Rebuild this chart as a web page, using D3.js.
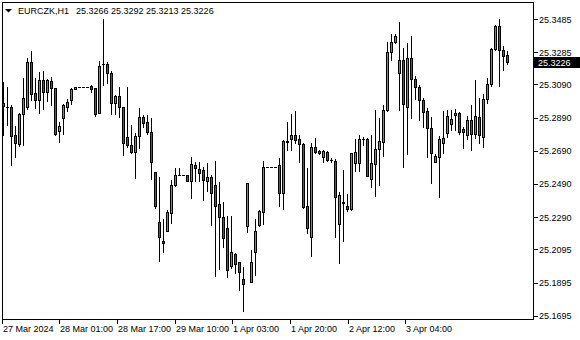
<!DOCTYPE html>
<html>
<head>
<meta charset="utf-8">
<script src="https://cdn.jsdelivr.net/npm/d3@7"></script>
<style>
  html, body { margin: 0; padding: 0; background: #fff; }
  svg text { font-family: "Liberation Sans", Arial, sans-serif; font-size: 9px; fill: #000; }
</style>
</head>
<body>
<script>
const symbol = "EURCZK,H1";

// hourly bars, oldest first
const open = [
  25.2977, 25.2957, 25.2956, 25.2786, 25.2731, 25.2912, 25.2954, 25.3224, 25.3037, 25.2997,
  25.3117, 25.3043, 25.3111, 25.3067, 25.2811, 25.2886, 25.2956, 25.2997, 25.3061, 25.3077,
  25.3077, 25.3077, 25.3081, 25.3067, 25.2920, 25.3213, 25.3212, 25.3158, 25.2977, 25.3021,
  25.2953, 25.2772, 25.2725, 25.2685, 25.2780, 25.2892, 25.2862, 25.2805, 25.2561, 25.2259,
  25.2145, 25.2208, 25.2313, 25.2482, 25.2543, 25.2543, 25.2543, 25.2510, 25.2603, 25.2579,
  25.2575, 25.2510, 25.2531, 25.2484, 25.2368, 25.2289, 25.2223, 25.1997, 25.2068, 25.2018,
  25.1915, 25.2239, 25.1901, 25.2082, 25.2243, 25.2323, 25.2594, 25.2594, 25.2594, 25.2605,
  25.2434, 25.2746, 25.2760, 25.2786, 25.2760, 25.2731, 25.2357, 25.2169, 25.2711, 25.2689,
  25.2651, 25.2685, 25.2636, 25.2631, 25.2247, 25.2378, 25.2357, 25.2338, 25.2619, 25.2619,
  25.2761, 25.2760, 25.2518, 25.2609, 25.2699, 25.2745, 25.2936, 25.3284, 25.3348, 25.3161,
  25.3238, 25.2956, 25.3248, 25.3121, 25.3077, 25.2997, 25.2930, 25.2826, 25.2625, 25.2655,
  25.2736, 25.2799, 25.2852, 25.2904, 25.2916, 25.2822, 25.2786, 25.2876, 25.2790, 25.2892,
  25.2772, 25.3001, 25.3091, 25.3302, 25.3443, 25.3298, 25.3266
];
const high = [
  25.3107, 25.3073, 25.2966, 25.2840, 25.2918, 25.3127, 25.3252, 25.3292, 25.3127, 25.3167,
  25.3173, 25.3123, 25.3137, 25.3069, 25.2866, 25.2972, 25.3001, 25.3067, 25.3075, 25.3077,
  25.3077, 25.3077, 25.3084, 25.3069, 25.3232, 25.3485, 25.3228, 25.3173, 25.3027, 25.3073,
  25.2954, 25.3073, 25.2846, 25.2796, 25.2947, 25.2906, 25.2906, 25.2886, 25.2562, 25.2531,
  25.2279, 25.2333, 25.2514, 25.2585, 25.2585, 25.2543, 25.2544, 25.2651, 25.2625, 25.2621,
  25.2594, 25.2615, 25.2546, 25.2629, 25.2502, 25.2383, 25.2297, 25.2297, 25.2076, 25.2020,
  25.1991, 25.2496, 25.2092, 25.2279, 25.2333, 25.2631, 25.2594, 25.2594, 25.2594, 25.2645,
  25.2755, 25.2862, 25.2912, 25.2930, 25.2786, 25.2737, 25.2585, 25.2736, 25.2766, 25.2695,
  25.2692, 25.2691, 25.2645, 25.2639, 25.2444, 25.2575, 25.2430, 25.2679, 25.2760, 25.2786,
  25.2775, 25.2766, 25.2786, 25.2936, 25.2886, 25.2966, 25.3348, 25.3395, 25.3395, 25.3465,
  25.3308, 25.3339, 25.3383, 25.3143, 25.3087, 25.3007, 25.2947, 25.2896, 25.2671, 25.2780,
  25.2930, 25.2936, 25.2936, 25.2941, 25.2926, 25.2836, 25.2900, 25.2966, 25.3117, 25.3007,
  25.3033, 25.3127, 25.3308, 25.3449, 25.3483, 25.3322, 25.3292
];
const low = [
  25.2786, 25.2846, 25.2605, 25.2655, 25.2721, 25.2725, 25.2942, 25.2997, 25.2947, 25.2916,
  25.2941, 25.2992, 25.2966, 25.2786, 25.2745, 25.2792, 25.2932, 25.2972, 25.3060, 25.3077,
  25.3077, 25.3077, 25.3047, 25.2900, 25.2918, 25.3087, 25.3097, 25.2912, 25.2912, 25.2892,
  25.2665, 25.2715, 25.2675, 25.2528, 25.2705, 25.2832, 25.2792, 25.2518, 25.2344, 25.2028,
  25.2082, 25.2207, 25.2257, 25.2478, 25.2543, 25.2543, 25.2508, 25.2407, 25.2510, 25.2510,
  25.2394, 25.2450, 25.2243, 25.1937, 25.1978, 25.2112, 25.1928, 25.1984, 25.1953, 25.1851,
  25.1726, 25.2199, 25.1899, 25.1941, 25.2237, 25.2247, 25.2594, 25.2594, 25.2594, 25.2357,
  25.2338, 25.2695, 25.2695, 25.2736, 25.2625, 25.2345, 25.2193, 25.2058, 25.2677, 25.2671,
  25.2625, 25.2629, 25.2621, 25.2169, 25.2012, 25.2148, 25.2329, 25.2333, 25.2570, 25.2570,
  25.2725, 25.2538, 25.2470, 25.2418, 25.2484, 25.2659, 25.2930, 25.3238, 25.3342, 25.2936,
  25.2591, 25.2671, 25.2886, 25.3001, 25.2876, 25.2832, 25.2651, 25.2498, 25.2623, 25.2413,
  25.2679, 25.2772, 25.2816, 25.2816, 25.2792, 25.2705, 25.2760, 25.2695, 25.2766, 25.2736,
  25.2715, 25.2980, 25.3081, 25.3298, 25.3081, 25.3178, 25.3213
];
const close = [
  25.2962, 25.2955, 25.2781, 25.2736, 25.2912, 25.3007, 25.3228, 25.3033, 25.2997, 25.3117,
  25.3047, 25.3117, 25.3067, 25.2790, 25.2840, 25.2966, 25.2986, 25.3061, 25.3073, 25.3077,
  25.3077, 25.3077, 25.3065, 25.2912, 25.3202, 25.3211, 25.3161, 25.2977, 25.3021, 25.2956,
  25.2739, 25.2725, 25.2685, 25.2781, 25.2892, 25.2856, 25.2805, 25.2621, 25.2359, 25.2172,
  25.2132, 25.2319, 25.2484, 25.2543, 25.2543, 25.2543, 25.2510, 25.2609, 25.2588, 25.2558,
  25.2514, 25.2531, 25.2438, 25.2359, 25.2293, 25.2163, 25.1972, 25.2078, 25.2008, 25.1958,
  25.1885, 25.2494, 25.2018, 25.2207, 25.2327, 25.2594, 25.2594, 25.2594, 25.2594, 25.2434,
  25.2751, 25.2744, 25.2786, 25.2755, 25.2731, 25.2353, 25.2223, 25.2711, 25.2681, 25.2675,
  25.2689, 25.2635, 25.2634, 25.2413, 25.2424, 25.2376, 25.2341, 25.2675, 25.2681, 25.2760,
  25.2759, 25.2540, 25.2615, 25.2699, 25.2749, 25.2936, 25.3284, 25.3345, 25.3383, 25.3238,
  25.2971, 25.3248, 25.3121, 25.3077, 25.2997, 25.2926, 25.2826, 25.2679, 25.2659, 25.2760,
  25.2769, 25.2900, 25.2880, 25.2916, 25.2802, 25.2802, 25.2876, 25.2790, 25.2900, 25.2784,
  25.3003, 25.3091, 25.3302, 25.3443, 25.3298, 25.3262, 25.3226
];

const priceTicks = [25.3485, 25.3285, 25.3090, 25.2890, 25.2690, 25.2490, 25.2290, 25.2095, 25.1895, 25.1695];
const timeTickBars = [-0.2, 14.2, 28.6, 43.05, 57.45, 71.9, 86.3, 100.7];
const timeTickLabels = ["27 Mar 2024", "28 Mar 01:00", "28 Mar 17:00", "29 Mar 10:00",
  "1 Apr 03:00", "1 Apr 20:00", "2 Apr 12:00", "3 Apr 04:00"];

const bullColor = "#3cb43c";
const bearColor = "#e01c1c";

const width = 580, height = 340;
const frame = { left: 2.5, right: 533.5, top: 2.5, bottom: 319.5 };

const bars = open.map((o, i) => ({ i, o, h: high[i], l: low[i], c: close[i] }));

const x = d3.scaleLinear().domain([0, bars.length - 1]).range([3.5, 3.5 + 4 * (bars.length - 1)]);
const y = d3.scaleLinear().domain([25.1695, 25.3485]).range([315.7, 19]);

const svg = d3.select("body").append("svg")
  .attr("width", width)
  .attr("height", height)
  .attr("shape-rendering", "crispEdges");

// header
svg.append("path")
  .attr("d", "M5,9 L12,9 L8.5,12.5 Z")
  .attr("fill", "#000")
  .attr("shape-rendering", "geometricPrecision");
svg.append("text").attr("x", 18).attr("y", 14).text(symbol);
const last = bars[bars.length - 1];
svg.append("text").attr("x", 76).attr("y", 14)
  .text([last.o, last.h, last.l, last.c].map(v => v.toFixed(4)).join(" "));

// candles
const g = svg.append("g");
const candle = g.selectAll("g.bar").data(bars).join("g").attr("class", "bar");

candle.append("line")
  .attr("x1", d => x(d.i)).attr("x2", d => x(d.i))
  .attr("y1", d => Math.round(y(d.h)) - 0.5)
  .attr("y2", d => Math.round(y(d.l)) + 0.5)
  .attr("stroke", "#000");

const isDoji = d => Math.abs(Math.round(y(d.o)) - Math.round(y(d.c))) < 1;

candle.filter(d => !isDoji(d)).append("rect")
  .attr("x", d => x(d.i) - 1)
  .attr("width", 2)
  .attr("y", d => Math.round(y(Math.max(d.o, d.c))) + 0.5)
  .attr("height", d => Math.round(y(Math.min(d.o, d.c))) - Math.round(y(Math.max(d.o, d.c))) - 1 + 1)
  .attr("fill", d => d.c > d.o ? bullColor : bearColor)
  .attr("stroke", "#000");

candle.filter(isDoji).append("line")
  .attr("x1", d => x(d.i) - 1.5).attr("x2", d => x(d.i) + 1.5)
  .attr("y1", d => Math.round(y(d.c)) + 0.5)
  .attr("y2", d => Math.round(y(d.c)) + 0.5)
  .attr("stroke", "#000");

// frame
svg.append("rect")
  .attr("x", frame.left).attr("y", frame.top)
  .attr("width", frame.right - frame.left)
  .attr("height", frame.bottom - frame.top)
  .attr("fill", "none").attr("stroke", "#000");

// price axis
const pAxis = svg.append("g");
pAxis.selectAll("line").data(priceTicks).join("line")
  .attr("x1", frame.right).attr("x2", frame.right + 4)
  .attr("y1", d => Math.round(y(d)) + 0.5).attr("y2", d => Math.round(y(d)) + 0.5)
  .attr("stroke", "#000");
pAxis.selectAll("text").data(priceTicks).join("text")
  .attr("x", 539).attr("y", d => y(d) + 3.5)
  .text(d => d.toFixed(4));

// last price marker
const ly = Math.round(y(last.c));
svg.append("rect")
  .attr("x", 534).attr("y", ly - 5).attr("width", 46).attr("height", 11)
  .attr("fill", "#000");
svg.append("text")
  .attr("x", 538).attr("y", ly + 3.5)
  .style("fill", "#fff")
  .text(last.c.toFixed(4));

// time axis
const tAxis = svg.append("g");
tAxis.selectAll("line").data(timeTickBars).join("line")
  .attr("x1", d => Math.round(x(d)) - 0.5).attr("x2", d => Math.round(x(d)) - 0.5)
  .attr("y1", frame.bottom).attr("y2", frame.bottom + 4)
  .attr("stroke", "#000");
tAxis.selectAll("text").data(timeTickBars).join("text")
  .attr("x", d => Math.round(x(d)))
  .attr("y", 332)
  .text((d, i) => timeTickLabels[i]);
</script>
</body>
</html>
